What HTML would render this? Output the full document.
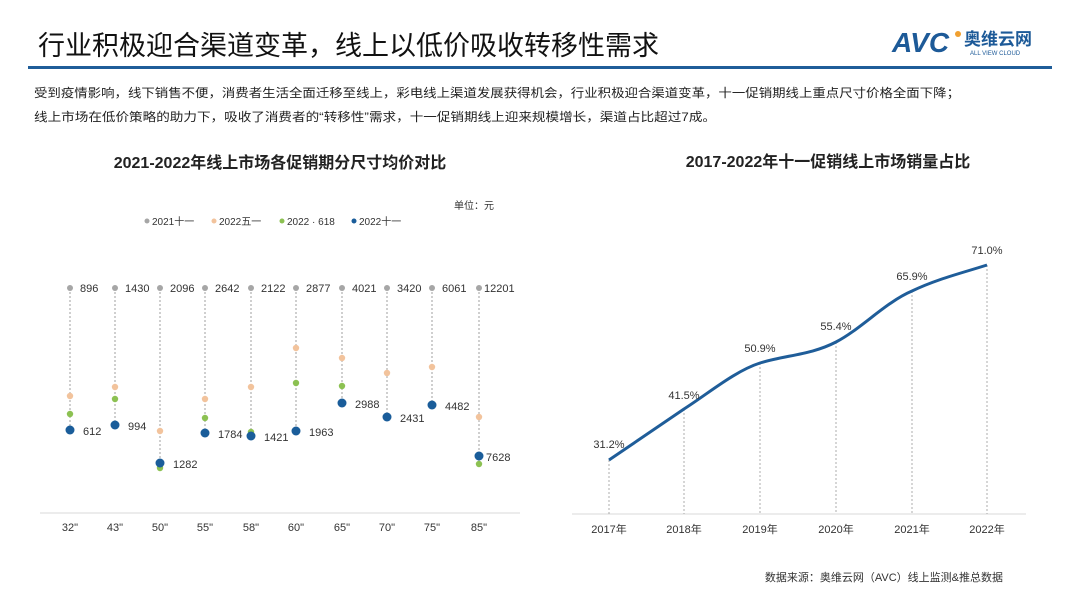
<!DOCTYPE html>
<html><head><meta charset="utf-8"><style>
body{margin:0;background:#fff;}
svg{display:block;font-family:"Liberation Sans","Noto Sans CJK SC",sans-serif;}
</style></head><body>
<svg width="1080" height="608" viewBox="0 0 1080 608">
<rect width="1080" height="608" fill="#fff"/>
<text x="38" y="55" font-size="27" fill="#111">行业积极迎合渠道变革，线上以低价吸收转移性需求</text>
<text x="892" y="52" font-size="28" font-weight="bold" fill="#1d5a98" font-style="italic">AVC</text>
<circle cx="958" cy="34" r="3" fill="#f0a030"/>
<text x="964" y="45" font-size="17" font-weight="bold" fill="#1d5a98">奥维云网</text>
<text x="970" y="55" font-size="6" fill="#1d5a98">ALL VIEW CLOUD</text>
<rect x="28" y="66" width="1024" height="3" fill="#1f5d99"/>
<text x="34" y="97" font-size="12" fill="#222" textLength="926" lengthAdjust="spacingAndGlyphs">受到疫情影响，线下销售不便，消费者生活全面迁移至线上，彩电线上渠道发展获得机会，行业积极迎合渠道变革，十一促销期线上重点尺寸价格全面下降；</text>
<text x="34" y="121" font-size="12" fill="#222" textLength="682" lengthAdjust="spacingAndGlyphs">线上市场在低价策略的助力下，吸收了消费者的“转移性”需求，十一促销期线上迎来规模增长，渠道占比超过7成。</text>
<text x="280" y="168" font-size="16" font-weight="bold" fill="#222" text-anchor="middle">2021-2022年线上市场各促销期分尺寸均价对比</text>
<text x="494" y="209" font-size="10" fill="#333" text-anchor="end">单位：元</text>
<g font-size="10" fill="#333">
<circle cx="147" cy="221" r="2.5" fill="#a6a6a6"/><text x="152" y="225">2021十一</text>
<circle cx="214" cy="221" r="2.5" fill="#f2c39c"/><text x="219" y="225">2022五一</text>
<circle cx="282" cy="221" r="2.5" fill="#8cc152"/><text x="287" y="225">2022 · 618</text>
<circle cx="354" cy="221" r="2.5" fill="#1a5d9a"/><text x="359" y="225">2022十一</text>
</g>
<line x1="40" y1="513" x2="520" y2="513" stroke="#d9d9d9"/>
<g stroke="#888" stroke-dasharray="2,2" stroke-width="0.8">
<line x1="70" y1="288" x2="70" y2="430"/><line x1="115" y1="288" x2="115" y2="425"/><line x1="160" y1="288" x2="160" y2="468"/><line x1="205" y1="288" x2="205" y2="433"/><line x1="251" y1="288" x2="251" y2="436"/><line x1="296" y1="288" x2="296" y2="431"/><line x1="342" y1="288" x2="342" y2="403"/><line x1="387" y1="288" x2="387" y2="417"/><line x1="432" y1="288" x2="432" y2="405"/><line x1="479" y1="288" x2="479" y2="464"/>
</g>
<g fill="#a6a6a6">
<circle cx="70" cy="288" r="3"/><circle cx="115" cy="288" r="3"/><circle cx="160" cy="288" r="3"/><circle cx="205" cy="288" r="3"/><circle cx="251" cy="288" r="3"/><circle cx="296" cy="288" r="3"/><circle cx="342" cy="288" r="3"/><circle cx="387" cy="288" r="3"/><circle cx="432" cy="288" r="3"/><circle cx="479" cy="288" r="3"/>
</g>
<g fill="#f2c39c">
<circle cx="70" cy="396" r="3.2"/><circle cx="115" cy="387" r="3.2"/><circle cx="160" cy="431" r="3.2"/><circle cx="205" cy="399" r="3.2"/><circle cx="251" cy="387" r="3.2"/><circle cx="296" cy="348" r="3.2"/><circle cx="342" cy="358" r="3.2"/><circle cx="387" cy="373" r="3.2"/><circle cx="432" cy="367" r="3.2"/><circle cx="479" cy="417" r="3.2"/>
</g>
<g fill="#8cc152">
<circle cx="70" cy="414" r="3.2"/><circle cx="115" cy="399" r="3.2"/><circle cx="160" cy="468" r="3.2"/><circle cx="205" cy="418" r="3.2"/><circle cx="251" cy="432" r="3.2"/><circle cx="296" cy="383" r="3.2"/><circle cx="342" cy="386" r="3.2"/><circle cx="387" cy="417" r="3.2"/><circle cx="432" cy="405" r="3.2"/><circle cx="479" cy="464" r="3.2"/>
</g>
<g fill="#1a5d9a">
<circle cx="70" cy="430" r="4.5"/><circle cx="115" cy="425" r="4.5"/><circle cx="160" cy="463" r="4.5"/><circle cx="205" cy="433" r="4.5"/><circle cx="251" cy="436" r="4.5"/><circle cx="296" cy="431" r="4.5"/><circle cx="342" cy="403" r="4.5"/><circle cx="387" cy="417" r="4.5"/><circle cx="432" cy="405" r="4.5"/><circle cx="479" cy="456" r="4.5"/>
</g>
<g font-size="11" fill="#333">
<text x="80" y="292">896</text><text x="125" y="292">1430</text><text x="170" y="292">2096</text><text x="215" y="292">2642</text><text x="261" y="292">2122</text><text x="306" y="292">2877</text><text x="352" y="292">4021</text><text x="397" y="292">3420</text><text x="442" y="292">6061</text><text x="484" y="292">12201</text>
<text x="83" y="435">612</text><text x="128" y="430">994</text><text x="173" y="468">1282</text><text x="218" y="438">1784</text><text x="264" y="441">1421</text><text x="309" y="436">1963</text><text x="355" y="408">2988</text><text x="400" y="422">2431</text><text x="445" y="410">4482</text><text x="486" y="461">7628</text>
</g>
<g font-size="11" fill="#333" text-anchor="middle">
<text x="70" y="531">32"</text><text x="115" y="531">43"</text><text x="160" y="531">50"</text><text x="205" y="531">55"</text><text x="251" y="531">58"</text><text x="296" y="531">60"</text><text x="342" y="531">65"</text><text x="387" y="531">70"</text><text x="432" y="531">75"</text><text x="479" y="531">85"</text>
</g>
<text x="828" y="167" font-size="16" font-weight="bold" fill="#222" text-anchor="middle">2017-2022年十一促销线上市场销量占比</text>
<line x1="572" y1="514" x2="1026" y2="514" stroke="#d9d9d9"/>
<g stroke="#999" stroke-dasharray="2,2" stroke-width="0.8">
<line x1="609" y1="460" x2="609" y2="514"/><line x1="684" y1="409" x2="684" y2="514"/><line x1="760" y1="363" x2="760" y2="514"/><line x1="836" y1="342" x2="836" y2="514"/><line x1="912" y1="291" x2="912" y2="514"/><line x1="987" y1="265" x2="987" y2="514"/>
</g>
<path d="M609,460 C634,443 659,426 684,409 C709,393 735,371 760,363 C786,355 811,355 836,342 C861,329 886,302 912,291 C937,279 962,273 987,265" fill="none" stroke="#1f5d99" stroke-width="3"/>
<g font-size="11" fill="#333" text-anchor="middle">
<text x="609" y="448">31.2%</text><text x="684" y="399">41.5%</text><text x="760" y="352">50.9%</text><text x="836" y="330">55.4%</text><text x="912" y="280">65.9%</text><text x="987" y="254">71.0%</text>
<text x="609" y="533">2017年</text><text x="684" y="533">2018年</text><text x="760" y="533">2019年</text><text x="836" y="533">2020年</text><text x="912" y="533">2021年</text><text x="987" y="533">2022年</text>
</g>
<text x="1003" y="581" font-size="11" fill="#333" text-anchor="end">数据来源：奥维云网（AVC）线上监测&amp;推总数据</text>
</svg>
</body></html>
